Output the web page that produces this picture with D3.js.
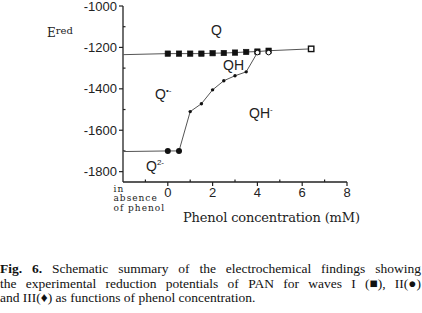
<!DOCTYPE html>
<html><head><meta charset="utf-8">
<script src="https://cdn.jsdelivr.net/npm/d3@7"></script>
<style>body{margin:0;background:#fff}svg{display:block}</style>
</head><body>
<svg id="c" width="422" height="313"></svg>
<script>
// ---- data ----
const xMajorTicks = [0, 2, 4, 6, 8];
const xMinorTicks = [-1, 1, 3, 5, 7];
const yMajorTicks = [-1000, -1200, -1400, -1600, -1800];
const yMinorTicks = [-1100, -1300, -1500, -1700];

// wave I (squares)
const waveIx = [0, 0.5, 1, 1.5, 2, 2.5, 3, 3.5, 4, 4.5, 6.4];
const waveIy = [-1230, -1230, -1230, -1230, -1228, -1227, -1225, -1222, -1220, -1216, -1207];
const waveIStart = [-2, -1235];

// wave II large dots (Q2- plateau)
const waveIIx = [0, 0.5];
const waveIIy = [-1700, -1700];
const waveIIStart = [-2, -1703];

// small dots
const waveIIIx = [1, 1.5, 2, 2.5, 3, 3.5];
const waveIIIy = [-1510, -1472, -1405, -1361, -1337, -1318];

// open markers where waves merge
const openX = [4, 4.5];
const openY = [-1225, -1225];

const absenceLines = ["in", "absence", "of phenol"];

const captionLines = [
  ["Fig. 6.", " Schematic summary of the electrochemical findings showing"],
  ["", "the experimental reduction potentials of PAN for waves I (\u25A0), II(\u25CF)"],
  ["", "and III(\u2666) as functions of phenol concentration."]
];

// ---- drawing ----
const svg = d3.select("#c");
const x = d3.scaleLinear().domain([-2, 8]).range([123, 347]);
const y = d3.scaleLinear().domain([-1850, -1000]).range([182, 6]);
const ink = "#222", lineCol = "#555";

const g = svg.append("g");
// axes lines
g.append("line").attr("x1", x(-2)).attr("x2", x(-2)).attr("y1", y(-1000)).attr("y2", y(-1850))
  .attr("stroke", ink).attr("stroke-width", 1.3);
g.append("line").attr("x1", x(-2)).attr("x2", x(8)).attr("y1", y(-1850)).attr("y2", y(-1850))
  .attr("stroke", ink).attr("stroke-width", 1.3);

// y major ticks
yMajorTicks.forEach(v => {
  g.append("line").attr("x1", x(-2) - 4).attr("x2", x(-2)).attr("y1", y(v)).attr("y2", y(v))
    .attr("stroke", ink).attr("stroke-width", 1.2);
  g.append("text").attr("x", x(-2) - 6).attr("y", y(v) + 4.5).attr("text-anchor", "end")
    .attr("font-family", "Liberation Sans, Arial, sans-serif").attr("font-size", 13)
    .attr("fill", ink).text(d3.format("d")(v).replace("\u2212", "-"));
});
yMinorTicks.forEach(v => {
  g.append("line").attr("x1", x(-2)).attr("x2", x(-2) + 2.5).attr("y1", y(v)).attr("y2", y(v))
    .attr("stroke", ink).attr("stroke-width", 1.2);
});
// x ticks
xMajorTicks.forEach(v => {
  g.append("line").attr("x1", x(v)).attr("x2", x(v)).attr("y1", y(-1850)).attr("y2", y(-1850) + 4)
    .attr("stroke", ink).attr("stroke-width", 1.2);
  g.append("text").attr("x", x(v)).attr("y", y(-1850) + 15).attr("text-anchor", "middle")
    .attr("font-family", "Liberation Sans, Arial, sans-serif").attr("font-size", 13)
    .attr("fill", ink).text(v);
});
xMinorTicks.forEach(v => {
  g.append("line").attr("x1", x(v)).attr("x2", x(v)).attr("y1", y(-1850)).attr("y2", y(-1850) - 2.5)
    .attr("stroke", ink).attr("stroke-width", 1.2);
});

const line = d3.line().x(d => x(d[0])).y(d => y(d[1]));
// wave I line
const wI = [waveIStart].concat(waveIx.map((v, i) => [v, waveIy[i]]));
g.append("path").attr("d", line(wI)).attr("fill", "none").attr("stroke", lineCol).attr("stroke-width", 1);
// wave II/III line
const wII = [waveIIStart].concat(waveIIx.map((v, i) => [v, waveIIy[i]]))
  .concat(waveIIIx.map((v, i) => [v, waveIIIy[i]])).concat([[openX[0], openY[0]]]);
g.append("path").attr("d", line(wII)).attr("fill", "none").attr("stroke", lineCol).attr("stroke-width", 1);

// squares
waveIx.forEach((v, i) => {
  const last = i === waveIx.length - 1;
  g.append("rect").attr("x", x(v) - 2.7).attr("y", y(waveIy[i]) - 2.7).attr("width", 5.4).attr("height", 5.4)
    .attr("fill", last ? "#fff" : "#111").attr("stroke", "#111").attr("stroke-width", last ? 1.4 : 0.6);
});
// open circles
openX.forEach((v, i) => {
  g.append("circle").attr("cx", x(v)).attr("cy", y(openY[i])).attr("r", 2.3)
    .attr("fill", "#fff").attr("stroke", "#111").attr("stroke-width", 1);
});
// big dots
waveIIx.forEach((v, i) => {
  g.append("circle").attr("cx", x(v)).attr("cy", y(waveIIy[i])).attr("r", 3).attr("fill", "#111");
});
// small dots
waveIIIx.forEach((v, i) => {
  g.append("circle").attr("cx", x(v)).attr("cy", y(waveIIIy[i])).attr("r", 1.7).attr("fill", "#111");
});

// region labels
const sans = "Liberation Sans, Arial, sans-serif";
function lab(tx, ty, main, sup, fs) {
  const t = g.append("text").attr("x", tx).attr("y", ty).attr("font-family", sans)
    .attr("font-size", fs || 14).attr("fill", ink);
  t.append("tspan").text(main);
  if (sup) t.append("tspan").attr("dy", -6).attr("font-size", 8).text(sup);
}
lab(211, 35, "Q");
lab(223, 70, "QH");
lab(155, 99, "Q", "\u2022-");
lab(249, 118, "QH", "-");
lab(146, 171, "Q", "2-");

// E red
const er = g.append("text").attr("x", 47).attr("y", 37).attr("font-family", "DejaVu Serif, serif")
  .attr("font-size", 12).attr("fill", ink);
er.append("tspan").text("E");
er.append("tspan").attr("dy", -3).attr("font-size", 10).text("red");

// in absence of phenol (one text block, three lines)
const ab = g.append("text").attr("font-family", "DejaVu Serif, serif")
  .attr("font-size", 9).attr("letter-spacing", 1.0).attr("fill", ink);
absenceLines.forEach((s, i) => {
  ab.append("tspan").attr("x", 113.5).attr("y", 191.5 + i * 9.8).text(s);
});
// x axis title
g.append("text").attr("x", 183).attr("y", 222).attr("font-family", "DejaVu Serif, serif")
  .attr("font-size", 13).attr("textLength", 177).attr("lengthAdjust", "spacing")
  .attr("fill", ink).text("Phenol concentration  (mM)");

// caption
const capY = [273, 288, 302];
captionLines.forEach((ln, i) => {
  const t = svg.append("text").attr("x", 0).attr("y", capY[i])
    .attr("font-family", "Liberation Serif, Times New Roman, serif").attr("font-size", 13.5).attr("fill", "#111")
    .attr("xml:space", "preserve");
  if (ln[0]) t.append("tspan").attr("font-weight", "bold").text(ln[0]);
  t.append("tspan").text(ln[1]);
  if (i < 2) {
    const w = t.node().getComputedTextLength();
    const full = ln[0] + ln[1];
    const spaces = (full.trim().match(/ +/g) || []).length;
    if (spaces > 0) t.attr("word-spacing", (421 - w) / spaces);
  }
});
</script>
</body></html>
